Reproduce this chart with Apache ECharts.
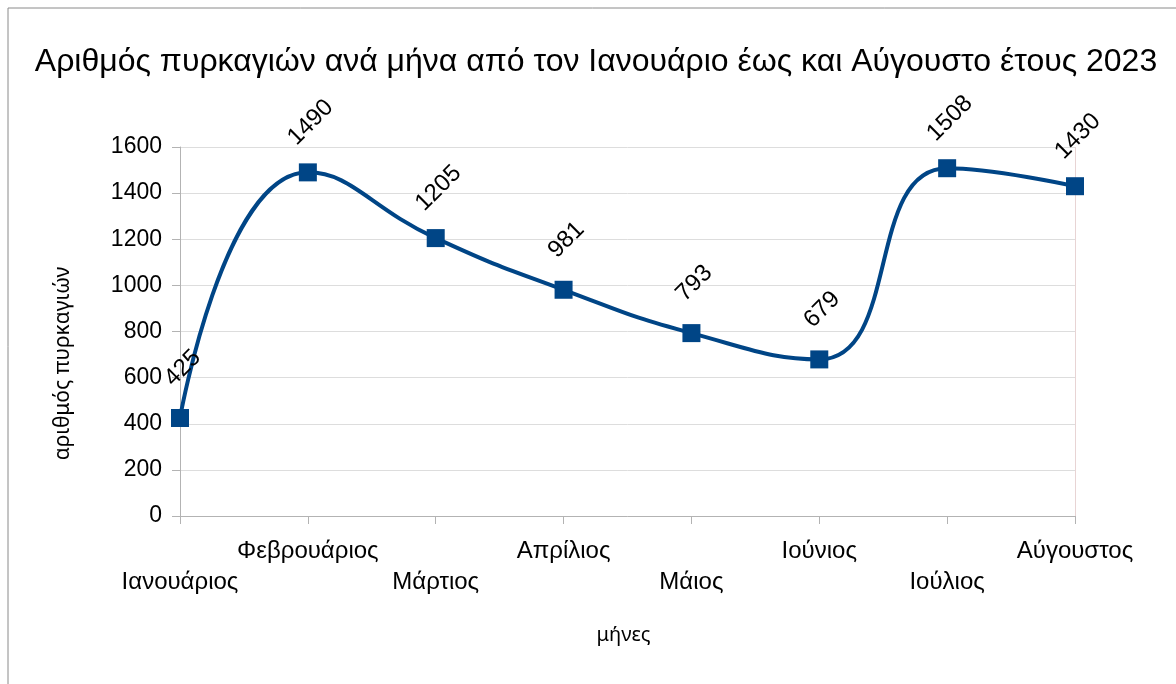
<!DOCTYPE html>
<html>
<head>
<meta charset="utf-8">
<script src="https://cdn.jsdelivr.net/npm/echarts@6/dist/echarts.min.js"></script>
<style>
  html, body { margin: 0; padding: 0; background: #fff; }
  #chart { width: 1176px; height: 684px; }
</style>
</head>
<body>
<div id="chart"></div>
<script>
// μήνες και αριθμός πυρκαγιών
const months = ['Ιανουάριος', 'Φεβρουάριος', 'Μάρτιος', 'Απρίλιος', 'Μάιος', 'Ιούνιος', 'Ιούλιος', 'Αύγουστος']
const fires = [425, 1490, 1205, 981, 793, 679, 1508, 1430]

const font = '"Liberation Sans", Arial, sans-serif'
const nameFont = '"Noto Sans", "Open Sans", sans-serif'
const chart = echarts.init(document.getElementById('chart'))

chart.setOption({
  backgroundColor: '#fff',
  textStyle: { fontFamily: font, color: '#000' },
  title: {
    text: 'Αριθμός πυρκαγιών ανά μήνα από τον Ιανουάριο έως και Αύγουστο έτους 2023',
    left: 591,
    textAlign: 'center',
    top: 41,
    textStyle: { fontFamily: font, fontSize: 32, fontWeight: 'normal', color: '#000' },
  },
  graphic: [{
    type: 'rect',
    shape: { x: 8, y: 8, width: 1300, height: 800 },
    style: { fill: 'none', stroke: '#8a8a8a', lineWidth: 1 },
    silent: true,
  }],
  grid: { left: 180, right: 101, top: 147, bottom: 168 },
  xAxis: {
    type: 'category',
    data: months,
    boundaryGap: false,
    name: 'μήνες',
    nameLocation: 'middle',
    nameGap: 109,
    nameTextStyle: { fontFamily: nameFont, fontSize: 20, color: '#000', padding: [0, 8, 0, 0] },
    axisLine: { lineStyle: { color: '#b3b3b3' } },
    axisTick: { show: true, length: 8, lineStyle: { color: '#b3b3b3' } },
    axisLabel: {
      interval: 0,
      margin: 20,
      fontFamily: font,
      fontSize: 24,
      color: '#000',
      lineHeight: 31,
      // εναλλάξ σε δύο σειρές όπως στο πρωτότυπο
      formatter: (v, i) => (i % 2 === 0 ? '\n' + v : v),
    },
    splitLine: { show: false },
  },
  yAxis: {
    type: 'value',
    min: 0,
    max: 1600,
    interval: 200,
    name: 'αριθμός πυρκαγιών',
    nameLocation: 'middle',
    nameGap: 106,
    nameTextStyle: { fontFamily: nameFont, fontSize: 21, color: '#000', padding: [0, 64, 0, 0] },
    axisLine: { show: true, lineStyle: { color: '#b3b3b3' } },
    axisTick: { show: true, length: 8, lineStyle: { color: '#b3b3b3' } },
    axisLabel: { margin: 18, fontFamily: font, fontSize: 23, color: '#000', formatter: (v) => String(v) },
    splitLine: { lineStyle: { color: '#dddddd' } },
  },
  series: [{
    name: 'πυρκαγιές',
    type: 'line',
    data: fires,
    smooth: 0.5,
    symbol: 'rect',
    symbolSize: 18,
    lineStyle: { color: '#004586', width: 4 },
    itemStyle: { color: '#004586' },
    label: {
      show: true,
      position: 'top',
      distance: 38,
      rotate: 45,
      align: 'center',
      verticalAlign: 'middle',
      offset: [4, 0],
      fontFamily: font,
      fontSize: 24,
      color: '#000',
    },
    // αχνή κάθετη γραμμή στο δεξί άκρο της περιοχής σχεδίασης
    markLine: {
      silent: true,
      symbol: 'none',
      label: { show: false },
      lineStyle: { color: '#e8d4d4', type: 'solid', width: 1 },
      data: [{ xAxis: months.length - 1 }],
      z: 1,
    },
    animation: false,
  }],
})
</script>
</body>
</html>
